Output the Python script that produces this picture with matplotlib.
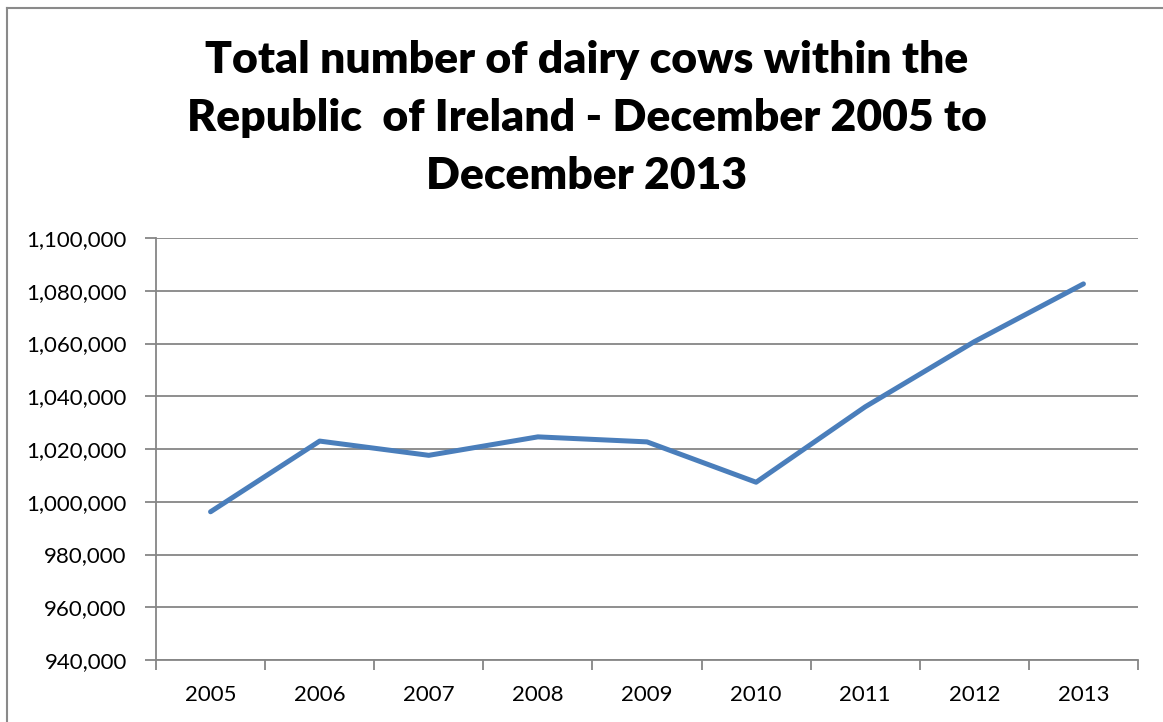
import matplotlib
matplotlib.use("Agg")
import matplotlib.pyplot as plt
from matplotlib.lines import Line2D
from matplotlib.ticker import FuncFormatter, FixedLocator

years = ["2005", "2006", "2007", "2008", "2009", "2010", "2011", "2012", "2013"]
cows = [996200, 1023000, 1017600, 1024600, 1022700, 1007400, 1036000, 1060700, 1082600]
y_ticks = [940000, 960000, 980000, 1000000, 1020000, 1040000, 1060000, 1080000, 1100000]
title = "Total number of dairy cows within the\nRepublic  of Ireland - December 2005 to\nDecember 2013"

plt.rcParams['font.family'] = ['Lato', 'DejaVu Sans']

W, H = 1163, 722
fig = plt.figure(figsize=(W / 100, H / 100), dpi=100)
ax = fig.add_axes([156 / W, 1 - 660 / H, (1138 - 156) / W, (660 - 238) / H])

x = list(range(len(years)))
ax.plot(x, cows, color="#4A7EBB", linewidth=3.6, solid_capstyle="round", solid_joinstyle="round", zorder=3)

ax.set_xlim(-0.5, len(years) - 0.5)
ax.set_ylim(y_ticks[0], y_ticks[-1])
ax.set_yticks(y_ticks)
ax.yaxis.set_major_formatter(FuncFormatter(lambda v, p: f"{int(v):,}"))
ax.set_xticks(x)
ax.set_xticklabels(years)
ax.xaxis.set_minor_locator(FixedLocator([i - 0.5 for i in range(len(years) + 1)]))

grid_c = "#868686"
ax.grid(axis="y", color=grid_c, linewidth=1.3, zorder=1)
for s in ["top", "right"]:
    ax.spines[s].set_visible(False)
for s in ["left", "bottom"]:
    ax.spines[s].set_color(grid_c)
    ax.spines[s].set_linewidth(1.3)

ax.tick_params(axis="y", which="major", length=8, width=1.3, color=grid_c, labelsize=16, pad=13, labelcolor="black")
ax.tick_params(axis="x", which="major", length=0, labelsize=16, pad=18, labelcolor="black")
ax.tick_params(axis="x", which="minor", length=7, width=1.3, color=grid_c)

fig.text(587 / W, 1 - 40 / H, title, ha="center", va="top", fontsize=32, fontweight="heavy",
         linespacing=1.55, color="black")

# outer chart border
fig.add_artist(Line2D([7 / W, 7 / W], [0, 1 - 8 / H], color="#8a8a8a", linewidth=1.5, transform=fig.transFigure))
fig.add_artist(Line2D([7 / W, 1], [1 - 8 / H, 1 - 8 / H], color="#8a8a8a", linewidth=1.5, transform=fig.transFigure))

fig.savefig("out.png", dpi=100)
